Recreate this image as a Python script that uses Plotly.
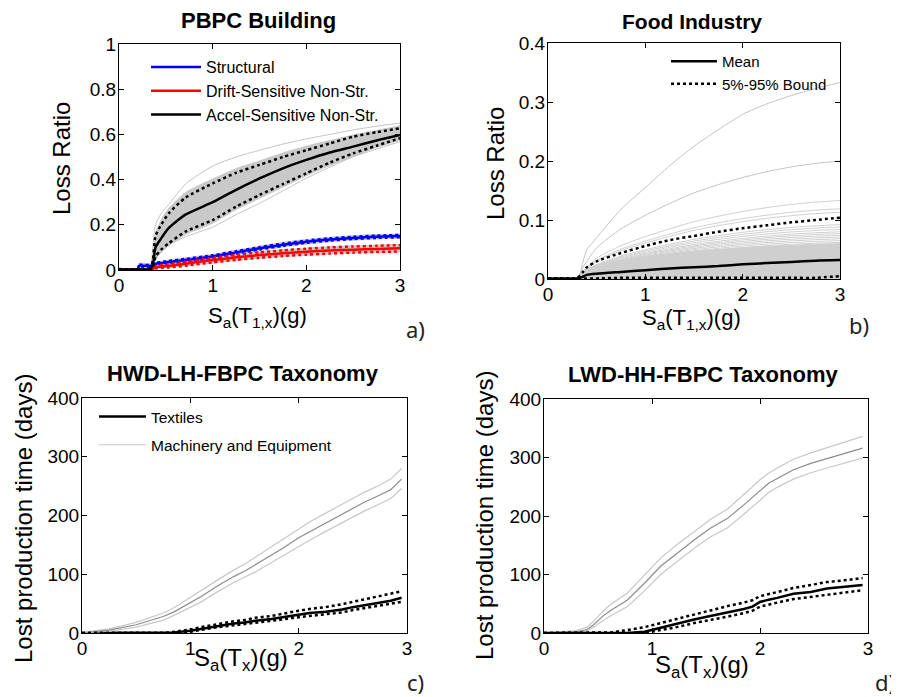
import plotly.graph_objects as go

# ---------------- data ----------------
# Panel a) PBPC Building
sa_a = [0, 0.2, 0.21, 0.33, 0.36, 0.39, 0.45, 0.53, 0.71, 1.0, 1.25, 1.5, 1.75, 2.0, 2.25, 2.5, 2.75, 3.0]
accel_mean = [0.002, 0.002, 0.002, 0.004, 0.02, 0.10, 0.14, 0.185, 0.245, 0.30, 0.355, 0.405, 0.45, 0.487, 0.52, 0.546, 0.573, 0.597]
accel_p95 = [0.003, 0.003, 0.003, 0.006, 0.04, 0.15, 0.20, 0.25, 0.32, 0.383, 0.43, 0.465, 0.50, 0.53, 0.56, 0.59, 0.61, 0.627]
accel_p5 = [0.001, 0.001, 0.001, 0.002, 0.01, 0.059, 0.09, 0.118, 0.17, 0.221, 0.28, 0.332, 0.38, 0.428, 0.475, 0.516, 0.55, 0.583]
accel_band_hi = [0.004, 0.004, 0.004, 0.008, 0.06, 0.17, 0.225, 0.275, 0.345, 0.405, 0.45, 0.485, 0.52, 0.55, 0.575, 0.60, 0.62, 0.64]
accel_band_lo = [0.0, 0.0, 0.0, 0.0, 0.005, 0.045, 0.075, 0.105, 0.155, 0.205, 0.265, 0.315, 0.365, 0.415, 0.46, 0.50, 0.54, 0.572]
accel_max = [0.004, 0.004, 0.004, 0.01, 0.1, 0.2, 0.25, 0.29, 0.38, 0.46, 0.50, 0.53, 0.557, 0.58, 0.60, 0.62, 0.636, 0.65]
accel_min = [0.0, 0.0, 0.0, 0.0, 0.005, 0.044, 0.08, 0.11, 0.147, 0.19, 0.245, 0.295, 0.35, 0.406, 0.455, 0.501, 0.535, 0.568]
struct_mean = [0.003, 0.003, 0.018, 0.018, 0.022, 0.027, 0.031, 0.035, 0.044, 0.060, 0.078, 0.096, 0.112, 0.125, 0.135, 0.142, 0.147, 0.150]
struct_p95 = [0.004, 0.004, 0.022, 0.022, 0.026, 0.031, 0.035, 0.040, 0.049, 0.065, 0.083, 0.101, 0.117, 0.130, 0.140, 0.147, 0.152, 0.155]
struct_p5 = [0.002, 0.002, 0.014, 0.014, 0.018, 0.023, 0.027, 0.030, 0.039, 0.055, 0.073, 0.091, 0.107, 0.120, 0.130, 0.137, 0.142, 0.145]
struct_band_hi = [0.005, 0.005, 0.03, 0.03, 0.032, 0.036, 0.04, 0.046, 0.056, 0.072, 0.09, 0.108, 0.124, 0.137, 0.147, 0.154, 0.159, 0.162]
struct_band_lo = [0.0, 0.0, 0.008, 0.008, 0.012, 0.017, 0.021, 0.024, 0.033, 0.048, 0.066, 0.084, 0.100, 0.113, 0.123, 0.130, 0.135, 0.138]
drift_mean = [0.001, 0.001, 0.001, 0.002, 0.005, 0.012, 0.015, 0.018, 0.028, 0.044, 0.056, 0.066, 0.074, 0.081, 0.086, 0.090, 0.093, 0.096]
drift_p95 = [0.002, 0.002, 0.002, 0.003, 0.008, 0.018, 0.022, 0.026, 0.037, 0.054, 0.067, 0.078, 0.087, 0.094, 0.100, 0.104, 0.107, 0.110]
drift_p5 = [0.0, 0.0, 0.0, 0.001, 0.003, 0.007, 0.009, 0.011, 0.019, 0.034, 0.045, 0.054, 0.062, 0.068, 0.073, 0.077, 0.080, 0.082]
drift_band_hi = [0.003, 0.003, 0.003, 0.005, 0.012, 0.022, 0.027, 0.031, 0.042, 0.059, 0.072, 0.083, 0.092, 0.099, 0.105, 0.109, 0.112, 0.116]
drift_band_lo = [0.0, 0.0, 0.0, 0.0, 0.001, 0.004, 0.006, 0.008, 0.015, 0.029, 0.040, 0.049, 0.057, 0.063, 0.068, 0.072, 0.075, 0.077]

# Panel b) Food Industry
sa_b = [0, 0.2, 0.3, 0.33, 0.36, 0.4, 0.5, 0.75, 1.0, 1.25, 1.5, 1.75, 2.0, 2.25, 2.5, 2.75, 3.0]
food_top = [0, 0, 0.002, 0.01, 0.03, 0.05, 0.07, 0.118, 0.155, 0.192, 0.225, 0.253, 0.279, 0.297, 0.311, 0.323, 0.333]
food_second = [0, 0, 0.001, 0.008, 0.02, 0.03, 0.053, 0.085, 0.108, 0.128, 0.146, 0.16, 0.172, 0.182, 0.19, 0.196, 0.2]
food_other_ends = [0.133, 0.119, 0.113, 0.092, 0.088, 0.084, 0.080, 0.077, 0.074, 0.071, 0.068, 0.065, 0.062]
food_dense_top = [0.001, 0.001, 0.002, 0.005, 0.01, 0.016, 0.024, 0.032, 0.038, 0.043, 0.047, 0.05, 0.053, 0.055, 0.057, 0.059, 0.06]
food_mean = [0.001, 0.001, 0.001, 0.002, 0.004, 0.007, 0.009, 0.012, 0.015, 0.018, 0.020, 0.022, 0.025, 0.027, 0.029, 0.031, 0.032]
food_p95 = [0.001, 0.001, 0.002, 0.006, 0.012, 0.02, 0.03, 0.044, 0.056, 0.066, 0.073, 0.08, 0.086, 0.091, 0.096, 0.100, 0.104]
food_p5 = [0.001, 0.001, 0.001, 0.001, 0.001, 0.001, 0.001, 0.002, 0.002, 0.002, 0.002, 0.002, 0.002, 0.002, 0.002, 0.002, 0.005]

# Panel c) HWD-LH-FBPC Taxonomy
sa_c = [0, 0.25, 0.5, 0.75, 0.85, 1.0, 1.1, 1.25, 1.4, 1.5, 1.6, 1.75, 1.85, 2.0, 2.1, 2.25, 2.4, 2.5, 2.6, 2.75, 2.85, 2.95]
mach_c_mean = [0, 5, 14, 28, 36, 52, 62, 80, 96, 105, 116, 133, 144, 162, 172, 188, 203, 212, 222, 235, 244, 262]
mach_c_hi = [1, 7, 18, 34, 43, 61, 72, 90, 107, 117, 129, 147, 159, 178, 189, 204, 219, 229, 239, 252, 262, 280]
mach_c_lo = [0, 3, 10, 22, 30, 44, 53, 70, 86, 95, 104, 120, 131, 148, 158, 173, 188, 197, 207, 220, 229, 246]
text_c_mean = [0, 0, 0, 0, 1, 4, 7, 12, 16, 18, 21, 24, 27, 32, 34, 36, 40, 44, 47, 52, 55, 60]
text_c_hi = [0, 0, 0, 0, 2, 6, 10, 15, 20, 22, 26, 29, 33, 38, 41, 44, 49, 53, 57, 63, 66, 71]
text_c_lo = [0, 0, 0, 0, 0, 2, 5, 10, 13, 15, 17, 20, 23, 27, 29, 31, 35, 39, 42, 46, 49, 53]

# Panel d) LWD-HH-FBPC Taxonomy
sa_d = [0, 0.3, 0.4, 0.46, 0.54, 0.62, 0.77, 0.93, 1.08, 1.23, 1.39, 1.54, 1.7, 1.85, 1.93, 2.0, 2.08, 2.16, 2.31, 2.47, 2.62, 2.78, 2.95]
mach_d_mean = [0, 2, 6, 14, 28, 39, 56, 85, 114, 136, 159, 179, 196, 219, 232, 244, 256, 264, 279, 290, 298, 307, 316]
mach_d_hi = [0, 4, 10, 20, 36, 49, 68, 99, 128, 151, 174, 194, 212, 236, 250, 262, 273, 282, 297, 308, 317, 326, 336]
mach_d_lo = [0, 1, 4, 10, 20, 30, 45, 72, 100, 122, 145, 164, 180, 203, 215, 227, 240, 249, 263, 274, 282, 290, 299]
text_d_mean = [0, 0, 0, 0, 0, 0, 0, 2, 9, 15, 23, 29, 35, 41, 45, 53, 57, 60, 67, 70, 76, 79, 82]
text_d_hi = [0, 0, 0, 0, 0, 1, 5, 10, 17, 24, 32, 39, 46, 52, 56, 63, 67, 70, 77, 82, 87, 90, 94]
text_d_lo = [0, 0, 0, 0, 0, 0, 0, 0, 5, 10, 17, 22, 28, 34, 38, 45, 49, 52, 58, 62, 66, 69, 73]

titles = ["PBPC Building", "Food Industry", "HWD-LH-FBPC Taxonomy", "LWD-HH-FBPC Taxonomy"]
panel_letters = ["a)", "b)", "c)", "d)"]

# ---------------- figure ----------------
PAGE_MARGIN = 8          # default body margin of the page
W, H = 899 - PAGE_MARGIN, 697 - PAGE_MARGIN
FONT = "Liberation Sans, Arial, sans-serif"
fig = go.Figure()


def px(x):
    return (x - PAGE_MARGIN) / W


def py(y):
    return 1 - (y - PAGE_MARGIN) / H


def line(x, y, ax, color, width=1, dash="solid", name=None, legend=None, shape="linear", fill=None,
         fillcolor=None, show=False, group=None):
    fig.add_trace(go.Scatter(
        x=x, y=y, xaxis="x" + ax, yaxis="y" + ax, mode="lines",
        line=dict(color=color, width=width, dash=dash, shape=shape, smoothing=0.6 if shape == "spline" else None),
        fill=fill, fillcolor=fillcolor, name=name, showlegend=show, legendgroup=group,
        legend=legend, hoverinfo="skip"))


def band(x, lo, hi, ax, color, shape="linear"):
    line(x, lo, ax, "rgba(0,0,0,0)", 0, shape=shape)
    line(x, hi, ax, "rgba(0,0,0,0)", 0, shape=shape, fill="tonexty", fillcolor=color)


GRAY_FILL = "#c9c9c9"
LIGHT = "#c4c4c4"

# ---- panel a
band(sa_a, accel_band_lo, accel_band_hi, "", GRAY_FILL, "spline")
band(sa_a, struct_band_lo, struct_band_hi, "", GRAY_FILL, "spline")
band(sa_a, drift_band_lo, drift_band_hi, "", GRAY_FILL, "spline")
line(sa_a, accel_max, "", LIGHT, 1, shape="spline")
line(sa_a, accel_min, "", LIGHT, 1, shape="spline")
line(sa_a, struct_mean, "", "#0000ff", 2.5, name="Structural", legend="legend", shape="spline", show=True)
line(sa_a, drift_mean, "", "#ff0000", 2.5, name="Drift-Sensitive Non-Str.", legend="legend", shape="spline", show=True)
line(sa_a, accel_mean, "", "#000000", 2.5, name="Accel-Sensitive Non-Str.", legend="legend", shape="spline", show=True)
line(sa_a, struct_p95, "", "#0000ff", 2.5, "dot", shape="spline")
line(sa_a, struct_p5, "", "#0000ff", 2.5, "dot", shape="spline")
line(sa_a, drift_p95, "", "#ff0000", 2.5, "dot", shape="spline")
line(sa_a, drift_p5, "", "#ff0000", 2.5, "dot", shape="spline")
line(sa_a, accel_p95, "", "#000000", 2.5, "dot", shape="spline")
line(sa_a, accel_p5, "", "#000000", 2.5, "dot", shape="spline")

# ---- panel b
fig.add_trace(go.Scatter(x=sa_b, y=food_dense_top, xaxis="x2", yaxis="y2", mode="lines",
                         line=dict(color="#cfcfcf", width=1, shape="spline", smoothing=0.6),
                         fill="tozeroy", fillcolor="#cfcfcf", showlegend=False, hoverinfo="skip"))
food_shape = [v / food_second[-1] for v in food_second]
for end in food_other_ends:
    line(sa_b, [s * end for s in food_shape], "2", "#d0d0d0", 1, shape="spline")
line(sa_b, food_second, "2", LIGHT, 1, shape="spline")
line(sa_b, food_top, "2", LIGHT, 1, shape="spline")
line(sa_b, food_mean, "2", "#000000", 2.5, name="Mean", legend="legend2", shape="spline", show=True)
line(sa_b, food_p95, "2", "#000000", 2.5, "dot", name="5%-95% Bound", legend="legend2", shape="spline", show=True)
line(sa_b, food_p5, "2", "#000000", 2.5, "dot", shape="spline")

# ---- panel c
line(sa_c, text_c_mean, "3", "#000000", 2.5, name="Textiles", legend="legend3", show=True, group="tex")
line(sa_c, mach_c_hi, "3", "#c8c8c8", 1.2, name="Machinery and Equipment", legend="legend3", show=True, group="mach")
line(sa_c, mach_c_lo, "3", "#c8c8c8", 1.2)
line(sa_c, mach_c_mean, "3", "#8c8c8c", 1.2)
line(sa_c, text_c_hi, "3", "#000000", 2.5, "dot")
line(sa_c, text_c_lo, "3", "#000000", 2.5, "dot")

# ---- panel d
line(sa_d, mach_d_hi, "4", "#c8c8c8", 1.2)
line(sa_d, mach_d_lo, "4", "#c8c8c8", 1.2)
line(sa_d, mach_d_mean, "4", "#8c8c8c", 1.2)
line(sa_d, text_d_mean, "4", "#000000", 2.5)
line(sa_d, text_d_hi, "4", "#000000", 2.5, "dot")
line(sa_d, text_d_lo, "4", "#000000", 2.5, "dot")

# ---------------- axes ----------------
TICKFONT = dict(family=FONT, size=19, color="#000000")


def axis(domain, rng, dtick, anchor, standoff):
    return dict(domain=domain, range=rng, dtick=dtick, tick0=0, anchor=anchor,
                showline=True, linecolor="#000000", linewidth=1, mirror="ticks",
                ticks="inside", ticklen=5, tickcolor="#000000", showgrid=False,
                zeroline=False, tickfont=TICKFONT, fixedrange=True, automargin=False,
                ticklabelstandoff=standoff)


# pixel boxes on the page: (left, right, top, bottom)
boxes = [(119, 400, 44, 270), (548, 840, 43, 279), (82, 407, 398, 633), (544, 868, 399, 633)]
yranges = [[0, 1], [0, 0.4], [0, 400], [0, 400]]
ydticks = [0.2, 0.1, 100, 100]
suffix = ["", "2", "3", "4"]
layout_axes = {}
for i, (l, r, t, b) in enumerate(boxes):
    s = suffix[i]
    layout_axes["xaxis" + s] = axis([px(l), px(r)], [0, 3], 1, "y" + s, -2)
    layout_axes["yaxis" + s] = axis([py(b), py(t)], yranges[i], ydticks[i], "x" + s, -2)

# ---------------- annotations ----------------
ann = []
title_pos = [(258, 21, 22), (692, 22, 21), (243, 373, 22), (703, 374, 22)]
for (x, y, fs), t in zip(title_pos, titles):
    ann.append(dict(x=px(x), y=py(y), xref="paper", yref="paper", text="<b>" + t + "</b>",
                    showarrow=False, xanchor="center", yanchor="middle",
                    font=dict(family=FONT, size=fs, color="#000000")))

xt_a = "S<sub>a</sub>(T<sub>1,x</sub>)(g)"
xt_c = "S<sub>a</sub>(T<sub>x</sub>)(g)"
xtitles = [(xt_a, 257, 317, 22), (xt_a, 691, 319, 22), (xt_c, 241, 659, 24), (xt_c, 702, 666, 24)]
for t, x, y, fs in xtitles:
    ann.append(dict(x=px(x), y=py(y), xref="paper", yref="paper", text=t, showarrow=False,
                    xanchor="center", yanchor="middle", font=dict(family=FONT, size=fs, color="#000000")))

ytitles = [("Loss Ratio", 61, 159), ("Loss Ratio", 495, 163),
           ("Lost production time (days)", 23, 519), ("Lost production time (days)", 484, 516)]
for t, x, y in ytitles:
    ann.append(dict(x=px(x), y=py(y), xref="paper", yref="paper", text=t, showarrow=False,
                    textangle=-90, xanchor="center", yanchor="middle",
                    font=dict(family=FONT, size=24, color="#000000")))

letter_pos = [(415, 329), (859, 325), (415, 682), (885, 682)]
for (x, y), t in zip(letter_pos, panel_letters):
    ann.append(dict(x=px(x), y=py(y), xref="paper", yref="paper", text=t, showarrow=False,
                    xanchor="center", yanchor="middle",
                    font=dict(family="Noto Sans, sans-serif", size=22, color="#222222")))

legend_common = dict(bgcolor="rgba(0,0,0,0)", borderwidth=0, xanchor="left", yanchor="top",
                     itemclick=False, itemdoubleclick=False)

fig.update_layout(
    template="none",
    width=W, height=H, margin=dict(l=0, r=0, t=0, b=0, autoexpand=False),
    paper_bgcolor="#ffffff", plot_bgcolor="#ffffff",
    font=dict(family=FONT, color="#000000"),
    showlegend=True,
    legend=dict(x=px(146), y=py(50), tracegroupgap=0, itemwidth=50, traceorder="normal",
                font=dict(family=FONT, size=16, color="#000000"), **legend_common),
    legend2=dict(x=px(666), y=py(45), tracegroupgap=0, itemwidth=46, traceorder="normal",
                 font=dict(family=FONT, size=15, color="#000000"), **legend_common),
    legend3=dict(x=px(94), y=py(400), tracegroupgap=5, itemwidth=47, traceorder="grouped",
                 font=dict(family=FONT, size=15.5, color="#000000"), **legend_common),
    annotations=ann,
    **layout_axes,
)

fig.write_html("out.html")
